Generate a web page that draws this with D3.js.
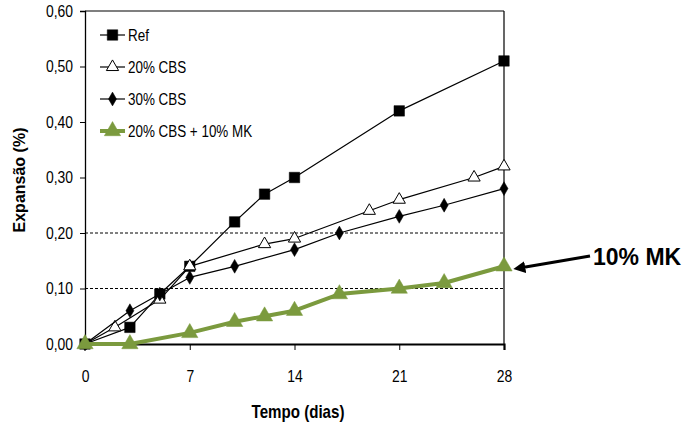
<!DOCTYPE html>
<html>
<head>
<meta charset="utf-8">
<script src="https://cdn.jsdelivr.net/npm/d3@7"></script>
<style>
  body { margin: 0; background: #fff; }
  svg { display: block; font-family: "Liberation Sans", Arial, sans-serif; }
</style>
</head>
<body>
<svg id="chart" width="685" height="426"></svg>
<script>
const refDays = [0, 3, 5, 7, 10, 12, 14, 21, 28],
    refValues = [0, 0.03, 0.09, 0.14, 0.22, 0.27, 0.30, 0.42, 0.51];
const cbs20Days = [0, 2, 5, 7, 12, 14, 19, 21, 26, 28],
    cbs20Values = [0, 0.03, 0.08, 0.14, 0.18, 0.19, 0.24, 0.26, 0.30, 0.32];
const cbs30Days = [0, 3, 5, 7, 10, 14, 17, 21, 24, 28],
    cbs30Values = [0, 0.06, 0.09, 0.12, 0.14, 0.17, 0.20, 0.23, 0.25, 0.28];
const mkDays = [0, 3, 7, 10, 12, 14, 17, 21, 24, 28],
    mkValues = [0, 0, 0.02, 0.04, 0.05, 0.06, 0.09, 0.10, 0.11, 0.14];
const xTicks = [0, 7, 14, 21, 28],
    yTicks = [0, 0.1, 0.2, 0.3, 0.4, 0.5, 0.6],
    gridValues = [0.1, 0.2];
const seriesNames = ['Ref', '20% CBS', '30% CBS', '20% CBS + 10% MK'];

const green = '#7b9a3e';

const svg = d3.select('#chart'),
    plotLeft = 85, plotRight = 504, plotTop = 11, plotBottom = 344;

const x = d3.scaleLinear().domain([0, 28]).range([plotLeft, plotRight]),
    y = d3.scaleLinear().domain([0, 0.6]).range([plotBottom, plotTop]);

const fmt = d => d3.format('.2f')(d).replace('.', ',');

// no narrow font installed, so squeeze the text horizontally
function narrow(sel, s) {
    sel.each(function () {
        const t = d3.select(this),
            tx = +t.attr('x') || 0;
        t.attr('x', tx / s).attr('transform', `scale(${s},1)`);
    });
}

// gridlines
svg.append('g')
    .selectAll('line')
    .data(gridValues)
    .join('line')
    .attr('x1', plotLeft).attr('x2', plotRight)
    .attr('y1', d => y(d)).attr('y2', d => y(d))
    .attr('stroke', '#000')
    .attr('stroke-width', 1)
    .attr('stroke-dasharray', '3,2');

// frame top / right
svg.append('line').attr('x1', plotLeft).attr('x2', plotRight).attr('y1', plotTop).attr('y2', plotTop)
    .attr('stroke', '#000').attr('stroke-width', 1.2);
svg.append('line').attr('x1', plotRight).attr('x2', plotRight).attr('y1', plotTop).attr('y2', plotBottom)
    .attr('stroke', '#000').attr('stroke-width', 1.2);

// axes
const yAxis = svg.append('g')
    .attr('transform', `translate(${plotLeft},0)`)
    .call(d3.axisLeft(y).tickValues(yTicks).tickFormat(fmt).tickSize(5).tickPadding(7));
const xAxis = svg.append('g')
    .attr('transform', `translate(0,${plotBottom})`)
    .call(d3.axisBottom(x).tickValues(xTicks).tickSize(6).tickPadding(20));

[yAxis, xAxis].forEach(a => {
    a.select('.domain').attr('stroke', '#000').attr('stroke-width', 1.3);
    a.selectAll('.tick line').attr('stroke', '#000');
    a.selectAll('text')
        .attr('fill', '#000')
        .style('font-family', '"Liberation Sans", Arial, sans-serif')
        .style('font-size', '17px')
        .call(narrow, 0.82);
});
xAxis.select('.domain').attr('stroke-width', 2.2);

// series
const line = d3.line().x(d => x(d[0])).y(d => y(d[1]));
const zip = (a, b) => a.map((d, i) => [d, b[i]]);

const squareSym = d3.symbol().type(d3.symbolSquare).size(110),
    triSym = d3.symbol().type(d3.symbolTriangle).size(65),
    diaSym = d3.symbol().type(d3.symbolDiamond).size(55),
    bigTri = d3.symbol().type(d3.symbolTriangle).size(115);

const series = [
    { data: zip(refDays, refValues), color: '#000', width: 1.2, sym: squareSym, fill: '#000' },
    { data: zip(cbs20Days, cbs20Values), color: '#000', width: 1.2, sym: triSym, fill: '#fff' },
    { data: zip(cbs30Days, cbs30Values), color: '#000', width: 1.2, sym: diaSym, fill: '#000' },
    { data: zip(mkDays, mkValues), color: green, width: 4, sym: bigTri, fill: green }
];

series.forEach(s => {
    svg.append('path')
        .datum(s.data)
        .attr('d', line)
        .attr('fill', 'none')
        .attr('stroke', s.color)
        .attr('stroke-width', s.width)
        .attr('stroke-linejoin', 'round');

    svg.append('g')
        .selectAll('path')
        .data(s.data)
        .join('path')
        .attr('d', s.sym)
        .attr('transform', d => `translate(${x(d[0])},${y(d[1])})`)
        .attr('fill', s.fill)
        .attr('stroke', s.color)
        .attr('stroke-width', s.fill === '#fff' ? 1 : 0.5);
});

// legend
const legend = svg.append('g');
const rowY = [35, 67, 99, 131];
series.forEach((s, i) => {
    const g = legend.append('g').attr('transform', `translate(100,${rowY[i]})`);
    g.append('line')
        .attr('x1', 0).attr('x2', 25)
        .attr('stroke', s.color)
        .attr('stroke-width', s.width);
    g.append('path')
        .attr('d', s.sym)
        .attr('transform', 'translate(12.5,0)')
        .attr('fill', s.fill)
        .attr('stroke', s.color)
        .attr('stroke-width', s.fill === '#fff' ? 1 : 0.5);
    g.append('text')
        .attr('x', 28)
        .attr('y', 6)
        .style('font-size', '17px')
        .text(seriesNames[i])
        .call(narrow, 0.79);
});

// axis titles
svg.append('text')
    .attr('x', 298)
    .attr('y', 418)
    .attr('text-anchor', 'middle')
    .style('font-size', '18px')
    .style('font-weight', 'bold')
    .text('Tempo (dias)')
    .call(narrow, 0.84);

svg.append('text')
    .attr('transform', 'translate(25,180) rotate(-90)')
    .attr('text-anchor', 'middle')
    .style('font-size', '16px')
    .style('font-weight', 'bold')
    .text('Expansão (%)');

// annotation
svg.append('defs').append('marker')
    .attr('id', 'arrow')
    .attr('viewBox', '0 0 10 10')
    .attr('refX', 1).attr('refY', 5)
    .attr('markerWidth', 4).attr('markerHeight', 4)
    .attr('orient', 'auto-start-reverse')
    .append('path')
    .attr('d', 'M0,0 L10,5 L0,10 Z')
    .attr('fill', '#000');

svg.append('line')
    .attr('x1', 590).attr('y1', 256)
    .attr('x2', x(28) + 20).attr('y2', y(0.14) + 1)
    .attr('stroke', '#000')
    .attr('stroke-width', 3)
    .attr('marker-end', 'url(#arrow)');

svg.append('text')
    .attr('x', 593)
    .attr('y', 265)
    .style('font-size', '23px')
    .style('font-weight', 'bold')
    .text('10% MK');
</script>
</body>
</html>
